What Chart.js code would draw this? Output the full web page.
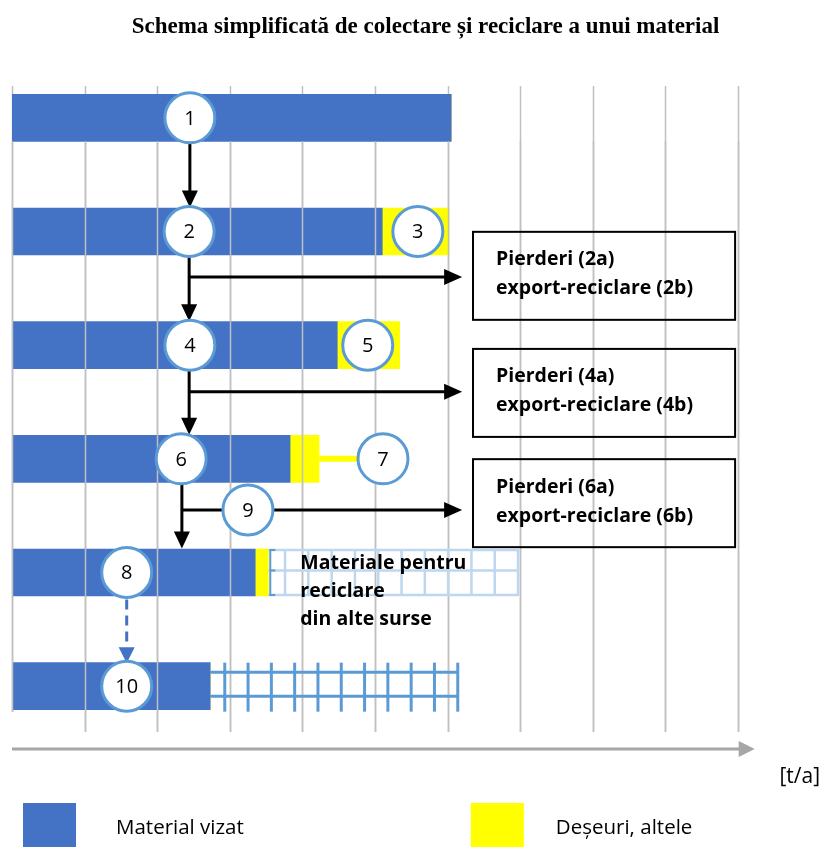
<!DOCTYPE html>
<html>
<head>
<meta charset="utf-8">
<script src="https://cdn.jsdelivr.net/npm/chart.js@4.4.1/dist/chart.umd.min.js"></script>
<style>
  html, body { margin: 0; padding: 0; background: #fff; }
</style>
</head>
<body>
<canvas id="flowCanvas" width="823" height="847"></canvas>
<script>
// stages drawn as horizontal bars, top to bottom
const stages = ['1', '2', '4', '6', '8', '10'];
const materialVizat = [6.05, 5.1, 4.48, 3.83, 3.35, 2.73];
const deseuri = [0, 0.92, 0.86, 0.4, 0.18, 0];
const alteSurse = [0, 0, 0, 0, 3.44, 3.41];
const gridTicks = [0, 1, 2, 3, 4, 5, 6, 7, 8, 9, 10];

// numbered circles: label, row (stage index), value on the x axis
const circleLabels = ['1', '2', '3', '4', '5', '6', '7', '8', '9', '10'];
const circleRows = [0, 1, 1, 2, 2, 3, 3, 4, 3.45, 5];
const circleValues = [2.45, 2.44, 5.59, 2.45, 4.9, 2.33, 5.11, 1.58, 3.25, 1.58];

// loss boxes on the right
const lossLines = [
  ['Pierderi (2a)', 'export-reciclare (2b)'],
  ['Pierderi (4a)', 'export-reciclare (4b)'],
  ['Pierderi (6a)', 'export-reciclare (6b)']
];
const lossRows = [1.39, 2.42, 3.39];
const lossFrom = 6.35;
const lossTo = 9.96;

// black flow arrows down the chain, with a branch to the loss box
const flowValues = [2.45, 2.44, 2.44, 2.34];
const branchRows = [null, 1.4, 2.41, 3.45];
const branchEnd = 6.2;

const otherSourcesText = ['Materiale pentru', 'reciclare', 'din alte surse'];
const titleText = 'Schema simplificată de colectare și reciclare a unui material';
const unitLabel = '[t/a]';

const BLUE = '#4472c4';
const YELLOW = '#ffff00';
const RING = '#5b9bd5';
const GRID = '#c0c0c0';
const SANS = '"Open Sans", "Noto Sans", sans-serif';

function arrowHead(ctx, x, y, dir, w, l, color) {
  ctx.fillStyle = color;
  ctx.beginPath();
  if (dir === 'down') {
    ctx.moveTo(x - w / 2, y - l); ctx.lineTo(x + w / 2, y - l); ctx.lineTo(x, y);
  } else {
    ctx.moveTo(x - l, y - w / 2); ctx.lineTo(x - l, y + w / 2); ctx.lineTo(x, y);
  }
  ctx.closePath();
  ctx.fill();
}

function drawGrid(chart, yFrom, yTo) {
  const { ctx } = chart;
  const xs = chart.scales.x;
  ctx.save();
  ctx.strokeStyle = GRID;
  ctx.lineWidth = 1.5;
  gridTicks.forEach(t => {
    const px = Math.round(xs.getPixelForValue(t)) + 0.5;
    ctx.beginPath();
    ctx.moveTo(px, yFrom);
    ctx.lineTo(px, t === 0 ? yTo - 20 : yTo);
    ctx.stroke();
  });
  ctx.restore();
}

const schemePlugin = {
  id: 'scheme',
  beforeDatasetsDraw(chart) {
    const a = chart.chartArea;
    drawGrid(chart, a.top + 25, a.bottom - 11);
  },
  afterDatasetsDraw(chart) {
    const { ctx, chartArea: a } = chart;
    const xs = chart.scales.x, ys = chart.scales.y;
    const rowY = r => ys.getPixelForValue(r);
    const R = 25;

    // grid shows through the lower bars
    const first = chart.getDatasetMeta(0).data[0];
    drawGrid(chart, first.y + first.height / 2, a.bottom - 11);

    // hatched part: materials from other sources
    const hatchMeta = chart.getDatasetMeta(2);
    hatchMeta.data.forEach((el, i) => {
      if (!alteSurse[i]) return;
      const x0 = el.base, x1 = el.x, top = el.y - el.height / 2, bot = el.y + el.height / 2;
      const step = 23.3;
      ctx.save();
      if (i === 4) {
        ctx.strokeStyle = '#bdd7ee';
        ctx.lineWidth = 2.5;
        [top + 1, el.y - 2, bot - 1].forEach(y => {
          ctx.beginPath(); ctx.moveTo(x0, y); ctx.lineTo(x1, y); ctx.stroke();
        });
        for (let x = x1; x > x0 + 6; x -= step) {
          ctx.beginPath(); ctx.moveTo(x, top); ctx.lineTo(x, bot); ctx.stroke();
        }
        ctx.strokeStyle = RING;
        ctx.lineWidth = 2;
        ctx.beginPath();
        ctx.moveTo(x0 + 7, top + 1); ctx.lineTo(x0 + 2, top + 1); ctx.lineTo(x0 + 2, bot - 1); ctx.lineTo(x0 + 7, bot - 1);
        ctx.moveTo(x0 + 2, el.y - 2); ctx.lineTo(x0 + 7, el.y - 2);
        ctx.stroke();
      } else {
        ctx.strokeStyle = RING;
        ctx.lineWidth = 3;
        [el.y - 14, el.y + 10].forEach(y => {
          ctx.beginPath(); ctx.moveTo(x0, y); ctx.lineTo(x1, y); ctx.stroke();
        });
        for (let x = x1; x > x0 + 6; x -= step) {
          ctx.beginPath(); ctx.moveTo(x, top); ctx.lineTo(x, bot + 2); ctx.stroke();
        }
      }
      ctx.restore();
    });

    ctx.save();
    // yellow link from waste of stage 6 to circle 7
    const wasteEl = chart.getDatasetMeta(1).data[3];
    ctx.strokeStyle = YELLOW;
    ctx.lineWidth = 6;
    ctx.beginPath();
    ctx.moveTo(wasteEl.x, rowY(circleRows[6]));
    ctx.lineTo(xs.getPixelForValue(circleValues[6]) - R, rowY(circleRows[6]));
    ctx.stroke();

    // black flow arrows
    ctx.strokeStyle = '#000';
    ctx.lineWidth = 3;
    flowValues.forEach((v, i) => {
      const x = xs.getPixelForValue(v);
      const yA = rowY(i) + R - 1;
      const yB = rowY(i + 1) - R + 1;
      ctx.beginPath(); ctx.moveTo(x, yA); ctx.lineTo(x, yB - 14); ctx.stroke();
      arrowHead(ctx, x, yB, 'down', 16, 17, '#000');
      if (branchRows[i] !== null) {
        const y = rowY(branchRows[i]);
        const xe = xs.getPixelForValue(branchEnd);
        ctx.beginPath(); ctx.moveTo(x, y); ctx.lineTo(xe - 14, y); ctx.stroke();
        arrowHead(ctx, xe, y, 'right', 16, 18, '#000');
      }
    });

    // dashed arrow 8 -> 10
    const xd = xs.getPixelForValue(circleValues[7]);
    const yd0 = rowY(circleRows[7]) + R + 2;
    const yd1 = rowY(circleRows[9]) - R;
    ctx.strokeStyle = BLUE;
    ctx.lineWidth = 3;
    ctx.setLineDash([10, 6]);
    ctx.beginPath(); ctx.moveTo(xd, yd0); ctx.lineTo(xd, yd1 - 14); ctx.stroke();
    ctx.setLineDash([]);
    arrowHead(ctx, xd, yd1 + 2, 'down', 16, 16, BLUE);

    // numbered circles
    circleLabels.forEach((lab, i) => {
      const x = xs.getPixelForValue(circleValues[i]);
      const y = rowY(circleRows[i]);
      ctx.beginPath();
      ctx.arc(x, y, R, 0, Math.PI * 2);
      ctx.fillStyle = '#fff';
      ctx.fill();
      ctx.lineWidth = 3;
      ctx.strokeStyle = RING;
      ctx.stroke();
      ctx.fillStyle = '#000';
      ctx.font = '20px ' + SANS;
      ctx.textAlign = 'center';
      ctx.textBaseline = 'middle';
      ctx.fillText(lab, x, y + 1);
    });

    // loss boxes
    const bx0 = xs.getPixelForValue(lossFrom), bx1 = xs.getPixelForValue(lossTo);
    lossLines.forEach((lines, i) => {
      const yc = rowY(lossRows[i]);
      ctx.strokeStyle = '#000';
      ctx.lineWidth = 2;
      ctx.strokeRect(bx0, yc - 44, bx1 - bx0, 88);
      ctx.fillStyle = '#000';
      ctx.font = 'bold 19.5px ' + SANS;
      ctx.textAlign = 'left';
      ctx.textBaseline = 'middle';
      ctx.fillText(lines[0], bx0 + 23, yc - 16);
      ctx.fillText(lines[1], bx0 + 23, yc + 13);
    });

    // label of the hatched part
    const hEl = hatchMeta.data[4];
    ctx.font = 'bold 19.5px ' + SANS;
    otherSourcesText.forEach((t, k) => {
      ctx.fillText(t, hEl.base + 32, hEl.y - 9 + k * 28);
    });
    ctx.restore();
  },
  afterDraw(chart) {
    const { ctx, chartArea: a } = chart;
    const xs = chart.scales.x;
    ctx.save();
    // title
    ctx.fillStyle = '#000';
    ctx.font = 'bold 23px "Liberation Serif", serif';
    ctx.textAlign = 'center';
    ctx.textBaseline = 'middle';
    ctx.fillText(titleText, chart.width / 2 + 14, 27);

    // value axis arrow
    const ya = a.bottom + 6;
    const xe = xs.getPixelForValue(10.23);
    ctx.strokeStyle = '#a6a6a6';
    ctx.lineWidth = 3;
    ctx.beginPath(); ctx.moveTo(a.left, ya); ctx.lineTo(xe - 14, ya); ctx.stroke();
    arrowHead(ctx, xe, ya, 'right', 16, 16, '#a6a6a6');
    ctx.fillStyle = '#000';
    ctx.font = '21px ' + SANS;
    ctx.textAlign = 'right';
    ctx.fillText(unitLabel, chart.width - 3, ya + 28);

    // legend
    const items = [chart.data.datasets[0], chart.data.datasets[1]];
    const slots = [a.left + 11, xs.getPixelForValue(6.32)];
    const gaps = [93, 85];
    items.forEach((ds, i) => {
      const x = slots[i];
      ctx.fillStyle = ds.backgroundColor;
      ctx.fillRect(x, a.bottom + 60, 53, 50);
      ctx.fillStyle = '#000';
      ctx.font = '20.5px ' + SANS;
      ctx.textAlign = 'left';
      ctx.fillText(ds.label, x + gaps[i], a.bottom + 85);
    });
    ctx.restore();
  }
};

const canvas = document.getElementById('flowCanvas');
new Chart(canvas.getContext('2d'), {
  type: 'bar',
  data: {
    labels: stages,
    datasets: [
      { label: 'Material vizat', data: materialVizat, backgroundColor: BLUE },
      { label: 'Deșeuri, altele', data: deseuri, backgroundColor: YELLOW },
      { label: 'Materiale pentru reciclare din alte surse', data: alteSurse, backgroundColor: 'rgba(0,0,0,0)' }
    ]
  },
  options: {
    indexAxis: 'y',
    responsive: false,
    animation: false,
    datasets: { bar: { barThickness: 47 } },
    layout: { padding: { left: 12, right: 85, top: 61, bottom: 104 } },
    scales: {
      x: { type: 'linear', min: 0, max: 10, stacked: true, display: false },
      y: { stacked: true, display: false }
    },
    plugins: {
      legend: { display: false },
      tooltip: { enabled: false },
      title: { display: false }
    }
  },
  plugins: [schemePlugin]
});
</script>
</body>
</html>
